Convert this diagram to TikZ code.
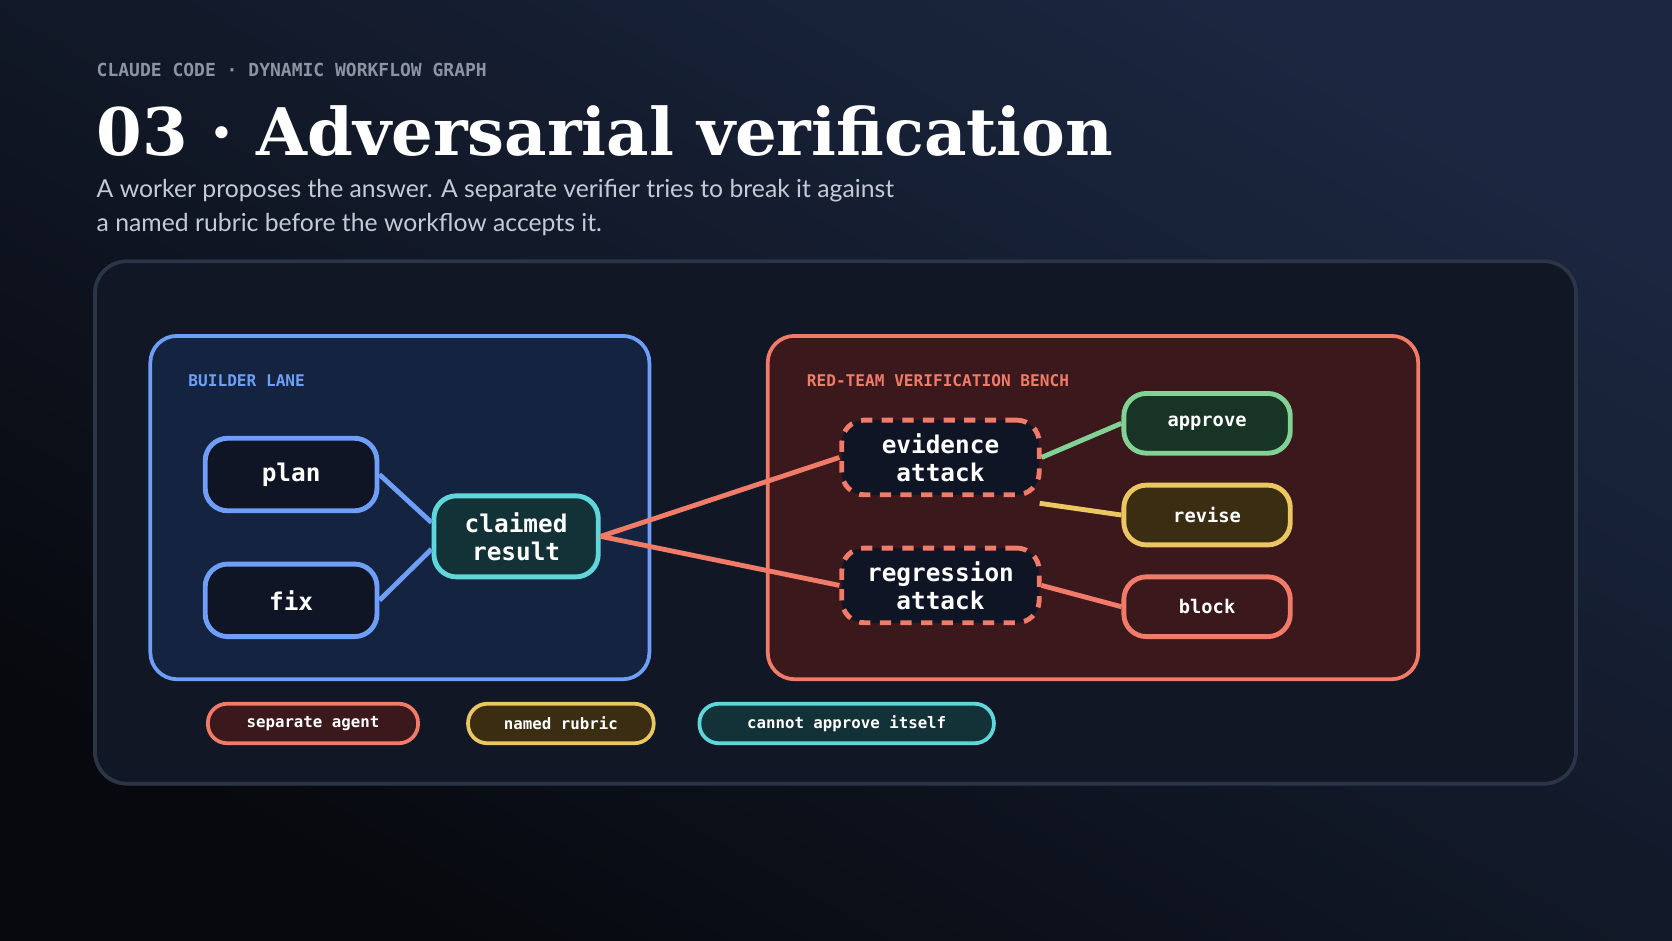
\documentclass[tikz,border=0pt]{standalone}
\usepackage{fontspec}
\setmainfont{Lato}
\newfontfamily\monof{DejaVu Sans Mono}
\newfontfamily\titlef{DejaVu Serif}
\definecolor{bgA}{HTML}{1B2740}
\definecolor{bgB}{HTML}{07090E}
\definecolor{panelF}{HTML}{111725}
\definecolor{panelD}{HTML}{2B3548}
\definecolor{blueD}{HTML}{6E9EF5}
\definecolor{blueF}{HTML}{14233F}
\definecolor{redD}{HTML}{F07B68}
\definecolor{redF}{HTML}{3A181B}
\definecolor{nodeF}{HTML}{0F1524}
\definecolor{cyanD}{HTML}{5ED6DA}
\definecolor{cyanF}{HTML}{123238}
\definecolor{greenD}{HTML}{82D296}
\definecolor{greenF}{HTML}{173424}
\definecolor{yelD}{HTML}{EBC661}
\definecolor{yelF}{HTML}{3A2D12}
\definecolor{greyT}{HTML}{8C94A3}
\definecolor{subT}{HTML}{C4CAD6}
\tikzset{
  box/.style={draw, line width=1.3pt, rounded corners=6pt, text=white, font=\monof\bfseries\fontsize{6.5}{7.5}\selectfont, align=center, inner sep=0pt},
  bluebox/.style={box, draw=blueD, fill=nodeF, minimum width=1.61cm, minimum height=0.68cm},
  atk/.style={box, draw=redD, fill=nodeF, dashed, dash pattern=on 3pt off 2.5pt, minimum width=1.85cm, minimum height=0.70cm},
  outbox/.style={box, font=\monof\bfseries\fontsize{5}{6}\selectfont, minimum width=1.56cm, minimum height=0.56cm},
  pill/.style={draw, line width=1pt, rounded corners=0.18cm, text=white, font=\monof\bfseries\fontsize{4.2}{5}\selectfont, minimum height=0.37cm, inner sep=0pt},
  lane/.style={rounded corners=0.25cm, line width=1pt},
  edge/.style={line width=1.3pt},
}
\begin{document}
\begin{tikzpicture}[x=0.01cm,y=-0.01cm]
\shade[left color=bgA, right color=bgB, shading angle=-30] (0,0) rectangle (1568,882);
\useasboundingbox (0,0) rectangle (1568,882);
\node[anchor=base west, text=greyT, font=\monof\bfseries\fontsize{4.8}{5}\selectfont, inner sep=0] (hdr) at (90,72) {CLAUDE CODE · DYNAMIC WORKFLOW GRAPH};
\node[anchor=base west, text=white, font=\titlef\bfseries\fontsize{17.5}{20}\selectfont, inner sep=0] (ttl) at (90,146) {03 · Adversarial verification};
\node[anchor=north west, text=subT, font=\fontsize{6.6}{9.1}\selectfont, align=left, inner sep=0] (sub) at (90,167) {A worker proposes the answer. A separate verifier tries to break it against\\a named rubric before the workflow accepts it.};
\draw[lane, rounded corners=0.3cm, fill=panelF, draw=panelD] (89,245) rectangle (1478,735);
\draw[lane, fill=blueF, draw=blueD] (141,315) rectangle (609,637);
\draw[lane, fill=redF, draw=redD] (720,315) rectangle (1330,637);
\node[anchor=base west, text=blueD, font=\monof\bfseries\fontsize{4.3}{5}\selectfont, inner sep=0] (bl) at (176,362) {BUILDER LANE};
\node[anchor=base west, text=redD, font=\monof\bfseries\fontsize{4.3}{5}\selectfont, inner sep=0] (rl) at (756,362) {RED-TEAM VERIFICATION BENCH};
\node[bluebox] (plan) at (273,445) {plan};
\node[bluebox] (fix) at (273,563) {fix};
\node[box, draw=cyanD, fill=cyanF, minimum width=1.54cm, minimum height=0.76cm] (cr) at (484,503) {claimed\\result};
\node[atk] (ev) at (882,429) {evidence\\attack};
\node[atk] (rg) at (882,549) {regression\\attack};
\node[outbox, draw=greenD, fill=greenF] (ap) at (1132,397) {approve};
\node[outbox, draw=yelD, fill=yelF] (rv) at (1132,483) {revise};
\node[outbox, draw=redD, fill=redF] (bk) at (1132,569) {block};
\draw[edge, blueD] (plan.east) -- ([yshift=0.13cm]cr.west);
\draw[edge, blueD] (fix.east) -- ([yshift=-0.12cm]cr.west);
\draw[edge, redD] (cr.east) -- (ev.west);
\draw[edge, redD] (cr.east) -- (rg.west);
\draw[edge, greenD] (ev.east) -- (ap.west);
\coordinate (evb) at (975,472);
\draw[edge, yelD] (evb) -- (rv.west);
\draw[edge, redD] (rg.east) -- (bk.west);
\node[pill, draw=redD, fill=redF, minimum width=1.97cm] (p1) at (293.5,678.5) {separate agent};
\node[pill, draw=yelD, fill=yelF, minimum width=1.74cm] (p2) at (526,678.5) {named rubric};
\node[pill, draw=cyanD, fill=cyanF, minimum width=2.76cm] (p3) at (794,678.5) {cannot approve itself};
\end{tikzpicture}
\end{document}
